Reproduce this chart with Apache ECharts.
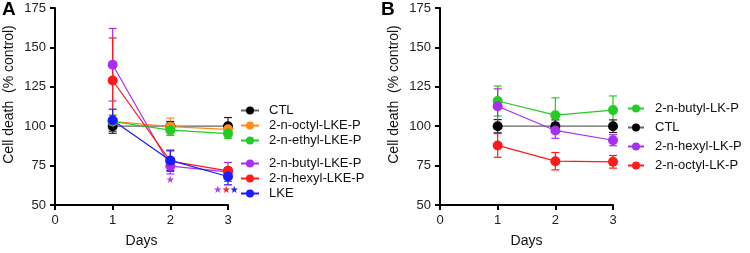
<!DOCTYPE html>
<html>
<head>
<meta charset="utf-8">
<script src="https://cdn.jsdelivr.net/npm/echarts@6/dist/echarts.min.js"></script>
<style>
  html, body { margin: 0; padding: 0; background: #fff; }
  #chart { width: 750px; height: 253px; }
</style>
</head>
<body>
<div id="chart"></div>
<script>
// x values (days)
const days = [1, 2, 3]
const yTicks = [50, 75, 100, 125, 150, 175]

// panel A - means and error (+/-)
const ctlA = [100, 100, 100]
const ctlAErr = [4.5, 3, 5.5]
const octylA = [103, 99.7, 98]
const octylAErr = [4, 5.5, 3]
const ethylA = [103, 97.5, 95.3]
const ethylAErr = [4, 3.3, 3]
const butylA = [139, 74.7, 71]
const butylAErr = [23, 5, 6]
const hexylA = [129, 77.8, 71.7]
const hexylAErr = [27, 6.5, 2]
const lkeA = [103.8, 78.3, 68.1]
const lkeAErr = [7, 6.5, 5.3]

// significance stars in panel A: [x, y, color]
const starsA = [
  [2, 65.3, '#b040f0'],
  [2.82, 59.4, '#b040f0'],
  [2.97, 59.4, '#ff2020'],
  [3.11, 59.4, '#2020ff']
]

// panel B - means and error (+/-)
const butylB = [116, 107, 110.2]
const butylBErr = [9.5, 11, 9]
const ctlB = [100, 100, 100]
const ctlBErr = [4.2, 4, 4]
const hexylB = [112.7, 97.3, 91.1]
const hexylBErr = [11, 5, 3.5]
const octylB = [87.8, 77.8, 77.4]
const octylBErr = [7.5, 5.5, 4]

const FONT = 'Liberation Sans, Arial, sans-serif'

const chart = echarts.init(document.getElementById('chart'), null, { renderer: 'canvas' })

function lineSeries(name, vals, color, gi, lineColor) {
  return {
    name: name,
    type: 'line',
    xAxisIndex: gi,
    yAxisIndex: gi,
    data: days.map((d, i) => [d, vals[i]]),
    symbol: 'circle',
    symbolSize: 10,
    itemStyle: { color: color },
    lineStyle: { color: lineColor || color, width: 1.2 },
    animation: false,
    z: 3
  }
}

function errSeries(vals, errs, color, gi) {
  return {
    type: 'custom',
    xAxisIndex: gi,
    yAxisIndex: gi,
    data: days.map((d, i) => [d, vals[i] - errs[i], vals[i] + errs[i]]),
    encode: { x: 0, y: [1, 2] },
    animation: false,
    z: 2,
    renderItem: function(params, api) {
      const x = api.value(0)
      const top = api.coord([x, api.value(2)])
      const bot = api.coord([x, api.value(1)])
      const w = 4
      const st = { stroke: color, lineWidth: 1.2 }
      return {
        type: 'group',
        children: [
          { type: 'line', shape: { x1: top[0], y1: top[1], x2: bot[0], y2: bot[1] }, style: st },
          { type: 'line', shape: { x1: top[0] - w, y1: top[1], x2: top[0] + w, y2: top[1] }, style: st },
          { type: 'line', shape: { x1: bot[0] - w, y1: bot[1], x2: bot[0] + w, y2: bot[1] }, style: st }
        ]
      }
    }
  }
}

const C = {
  black: '#000000',
  orange: '#ff8c1a',
  green: '#22cc22',
  purple: '#a82ef0',
  red: '#ff1a1a',
  blue: '#1a1aff'
}

function xAxisOf(gi) {
  return {
    gridIndex: gi,
    type: 'value',
    min: 0,
    max: 3,
    interval: 1,
    name: 'Days',
    nameLocation: 'middle',
    nameGap: 29,
    nameTextStyle: { fontFamily: FONT, fontSize: 14, color: '#111' },
    axisLine: { show: true, onZero: false, lineStyle: { color: '#000', width: 2 } },
    axisTick: { show: true, length: 5, lineStyle: { color: '#000', width: 2 } },
    axisLabel: { fontFamily: FONT, fontSize: 13, color: '#222', margin: 9 },
    splitLine: { show: false }
  }
}

function yAxisOf(gi) {
  return {
    gridIndex: gi,
    type: 'value',
    min: yTicks[0],
    max: yTicks[yTicks.length - 1],
    interval: 25,
    name: 'Cell death  (% control)',
    nameLocation: 'middle',
    nameGap: 39,
    nameTextStyle: { fontFamily: FONT, fontSize: 14, color: '#111', padding: [0, 0, 0, 24] },
    axisLine: { show: true, lineStyle: { color: '#000', width: 2 } },
    axisTick: { show: true, length: 5, lineStyle: { color: '#000', width: 2 } },
    axisLabel: { fontFamily: FONT, fontSize: 13, color: '#222', margin: 9 },
    splitLine: { show: false }
  }
}

const legendBase = {
  orient: 'vertical',
  itemWidth: 18,
  itemHeight: 10,
  selectedMode: false,
  textStyle: { fontFamily: FONT, fontSize: 13, lineHeight: 13, color: '#111', padding: [0, 0, 0, 5] }
}

chart.setOption({
  backgroundColor: '#fff',
  title: [
    { text: 'A', left: 2, top: 0, padding: 0, textStyle: { fontFamily: FONT, fontSize: 19, fontWeight: 'bold', color: '#000' } },
    { text: 'B', left: 381, top: 0, padding: 0, textStyle: { fontFamily: FONT, fontSize: 19, fontWeight: 'bold', color: '#000' } }
  ],
  grid: [
    { left: 55, top: 8, width: 173, height: 198 },
    { left: 440, top: 8, width: 173, height: 198 }
  ],
  xAxis: [xAxisOf(0), xAxisOf(1)],
  yAxis: [yAxisOf(0), yAxisOf(1)],
  legend: [
    Object.assign({}, legendBase, { left: 235, top: 99, itemGap: 2, data: ['CTL', '2-n-octyl-LKE-P', '2-n-ethyl-LKE-P'] }),
    Object.assign({}, legendBase, { left: 235, top: 152, itemGap: 2, data: ['2-n-butyl-LKE-P', '2-n-hexyl-LKE-P', 'LKE'] }),
    Object.assign({}, legendBase, { left: 622, top: 97, itemGap: 6, itemWidth: 16, data: ['2-n-butyl-LK-P', 'CTL', '2-n-hexyl-LK-P', '2-n-octyl-LK-P'],
      textStyle: { fontFamily: FONT, fontSize: 13, lineHeight: 13, color: '#111', padding: [0, 0, 0, 6] } })
  ],
  series: [
    // panel A
    errSeries(ctlA, ctlAErr, '#222', 0),
    errSeries(octylA, octylAErr, C.orange, 0),
    errSeries(ethylA, ethylAErr, C.green, 0),
    errSeries(butylA, butylAErr, C.purple, 0),
    errSeries(hexylA, hexylAErr, C.red, 0),
    errSeries(lkeA, lkeAErr, C.blue, 0),
    lineSeries('CTL', ctlA, C.black, 0, '#666'),
    lineSeries('2-n-octyl-LKE-P', octylA, C.orange, 0),
    lineSeries('2-n-ethyl-LKE-P', ethylA, C.green, 0),
    lineSeries('2-n-butyl-LKE-P', butylA, C.purple, 0),
    lineSeries('2-n-hexyl-LKE-P', hexylA, C.red, 0),
    lineSeries('LKE', lkeA, C.blue, 0),
    {
      type: 'custom',
      xAxisIndex: 0,
      yAxisIndex: 0,
      data: starsA,
      encode: { x: 0, y: 1 },
      animation: false,
      z: 4,
      renderItem: function(params, api) {
        const p = api.coord([api.value(0), api.value(1)])
        return {
          type: 'text',
          x: p[0],
          y: p[1],
          style: {
            text: '★',
            fill: starsA[params.dataIndex][2],
            font: '10px DejaVu Sans',
            align: 'center',
            verticalAlign: 'middle'
          }
        }
      }
    },
    // panel B
    errSeries(butylB, butylBErr, C.green, 1),
    errSeries(ctlB, ctlBErr, '#222', 1),
    errSeries(hexylB, hexylBErr, C.purple, 1),
    errSeries(octylB, octylBErr, C.red, 1),
    lineSeries('2-n-butyl-LK-P', butylB, C.green, 1),
    lineSeries('CTL', ctlB, C.black, 1, '#666'),
    lineSeries('2-n-hexyl-LK-P', hexylB, C.purple, 1),
    lineSeries('2-n-octyl-LK-P', octylB, C.red, 1)
  ]
})
</script>
</body>
</html>
